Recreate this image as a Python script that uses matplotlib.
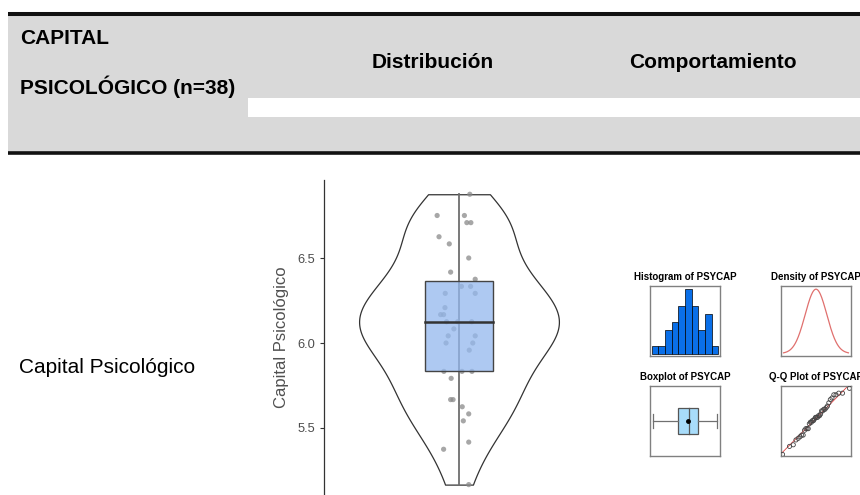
from statistics import NormalDist

import numpy as np
import pandas as pd
import matplotlib
matplotlib.use("Agg")
import matplotlib.pyplot as plt
from matplotlib.patches import Rectangle

plt.rcParams['font.family'] = ['Liberation Sans', 'DejaVu Sans']

# Puntajes de capital psicológico (n=38)
psycap = [5.167, 5.375, 5.417, 5.542, 5.583, 5.625, 5.667, 5.667, 5.792,
          5.833, 5.833, 5.833, 5.958, 6.0, 6.0, 6.042, 6.042, 6.083, 6.125,
          6.125, 6.125, 6.167, 6.167, 6.208, 6.292, 6.292, 6.333, 6.333,
          6.375, 6.417, 6.5, 6.583, 6.625, 6.708, 6.708, 6.75, 6.75, 6.875]
# desplazamiento horizontal de los puntos (jitter)
jitter = [0.036, -0.057, 0.036, 0.016, 0.036, 0.012, -0.031, -0.022, -0.029,
          -0.056, 0.048, 0.011, 0.038, -0.048, 0.051, -0.040, 0.060, -0.019,
          -0.046, -0.005, 0.047, -0.068, -0.057, -0.052, -0.051, 0.060, 0.009,
          0.043, 0.060, -0.031, 0.036, -0.036, -0.074, 0.029, 0.044, -0.081,
          0.020, 0.040]
yticks = [5.5, 6.0, 6.5]
hist_edges = [5.0, 5.2, 5.4, 5.6, 5.8, 6.0, 6.2, 6.4, 6.6, 6.8, 7.0]

header_left = ["CAPITAL", "PSICOLÓGICO (n=38)"]
col_titles = ["Distribución", "Comportamiento"]
row_label = "Capital Psicológico"
var_name = "PSYCAP"

W, H = 860, 495
fig = plt.figure(figsize=(W / 100, H / 100), dpi=100)
fig.patch.set_facecolor('white')


def px_axes(x0, y0, x1, y1):
    return fig.add_axes([x0 / W, 1 - y1 / H, (x1 - x0) / W, (y1 - y0) / H])


data = np.array(psycap)
n = len(data)

# ---- tabla de fondo ----
bg = fig.add_axes([0, 0, 1, 1])
bg.set_xlim(0, W)
bg.set_ylim(H, 0)
bg.axis('off')
bg.add_patch(Rectangle((8, 15), W - 8, 137, facecolor='#d9d9d9', edgecolor='none'))
bg.add_patch(Rectangle((248, 98), W - 248, 19, facecolor='white', edgecolor='none'))
bg.plot([8, W], [13.5, 13.5], color='#111111', lw=2.9, solid_capstyle='butt')
bg.plot([8, W], [152.5, 152.5], color='#111111', lw=2.6, solid_capstyle='butt')

bg.text(20, 44, header_left[0], fontsize=15, fontweight='bold', va='baseline')
bg.text(20, 94, header_left[1], fontsize=15, fontweight='bold', va='baseline')
bg.text(433, 68, col_titles[0], fontsize=15, fontweight='bold', ha='center', va='baseline')
bg.text(713, 68, col_titles[1], fontsize=15, fontweight='bold', ha='center', va='baseline')
bg.text(19, 373, row_label, fontsize=15, va='baseline')

# ---- violín + boxplot ----
ax = px_axes(324, 180, 594, 495)
ax.set_xlim(-0.5, 0.5)
ax.set_ylim(6.5 - (495 - 258) / 170, 6.5 + (258 - 180) / 170)

# densidad kernel (bw nrd0), recortada al rango de los datos
q1, med, q3 = np.percentile(data, [25, 50, 75])
bw = 0.9 * min(data.std(ddof=1), (q3 - q1) / 1.34) * n ** -0.2
grid = np.linspace(data.min(), data.max(), 300)
dens = np.exp(-0.5 * ((grid[:, None] - data[None, :]) / bw) ** 2).sum(axis=1)
half = dens / dens.max() * 0.37
ax.fill_betweenx(grid, -half, half, facecolor='white', edgecolor='#333333', lw=0.9, zorder=1)

ax.plot([0, 0], [data.min(), data.max()], color='#6e6e6e', lw=1.3, zorder=2)
ax.scatter(np.array(jitter), data, s=14, color='#8a8a8a', alpha=0.75, edgecolors='none', zorder=3)
ax.add_patch(Rectangle((-0.126, q1), 0.252, q3 - q1, facecolor=(0.576, 0.722, 0.933, 0.75),
                       edgecolor='#444444', lw=1.0, zorder=4))
ax.plot([-0.126, 0.126], [med, med], color='#333333', lw=1.8, zorder=5)

for s in ['top', 'right', 'bottom']:
    ax.spines[s].set_visible(False)
ax.spines['left'].set_color('#333333')
ax.spines['left'].set_linewidth(0.9)
ax.set_xticks([])
ax.set_yticks(yticks)
ax.set_yticklabels([f"{v:.1f}" for v in yticks])
ax.tick_params(axis='y', colors='#333333', labelcolor='#4d4d4d', labelsize=9.3, length=3, width=0.8)
ax.set_ylabel(row_label, fontsize=12, color='#505050', labelpad=6)
ax.patch.set_alpha(0)


# ---- miniaturas ----
def frame(a):
    for s in a.spines.values():
        s.set_color('#808080')
        s.set_linewidth(1.0)
    a.set_xticks([])
    a.set_yticks([])


def mini_title(x, y, txt):
    bg.text(x, y, txt, fontsize=7, fontweight='bold', ha='center', va='baseline')


# histograma (intervalos cerrados a la derecha)
bins = pd.cut(data, hist_edges, right=True)
counts = np.bincount(bins.codes, minlength=len(hist_edges) - 1)
h = px_axes(650, 286, 720, 356)
h.bar(hist_edges[:-1], counts, width=0.2, align='edge', color='#0a6fe8', edgecolor='black', lw=0.5)
h.set_xlim(4.95, 7.05)
h.set_ylim(-0.2, max(counts) * 1.05)
frame(h)
mini_title(685, 280, f"Histogram of {var_name}")

# densidad normal
nd = NormalDist(data.mean(), data.std(ddof=1))
xs = np.linspace(nd.mean - 3 * nd.stdev, nd.mean + 3 * nd.stdev, 200)
d = px_axes(781, 286, 851, 356)
d.plot(xs, [nd.pdf(v) for v in xs], color='#e0706e', lw=0.9)
d.margins(x=0.04, y=0.05)
frame(d)
mini_title(816, 280, f"Density of {var_name}")

# boxplot horizontal
b = px_axes(650, 386, 720, 456)
b.plot([data.min(), q1], [0, 0], color='#707070', lw=0.9)
b.plot([q3, data.max()], [0, 0], color='#707070', lw=0.9)
for v in [data.min(), data.max()]:
    b.plot([v, v], [-0.2, 0.2], color='#707070', lw=0.9)
b.add_patch(Rectangle((q1, -0.37), q3 - q1, 0.74, facecolor='#a8dcfa', edgecolor='#555555', lw=0.9))
b.plot([med, med], [-0.37, 0.37], color='#555555', lw=0.9)
b.plot([data.mean()], [0], 'o', color='black', ms=2.5)
b.set_xlim(data.min() - 0.07, data.max() + 0.088)
b.set_ylim(-1, 1)
frame(b)
mini_title(685, 380, f"Boxplot of {var_name}")

# Q-Q normal
std_norm = NormalDist()
theo = np.array([std_norm.inv_cdf((i - 0.5) / n) for i in range(1, n + 1)])
z25, z75 = std_norm.inv_cdf(0.25), std_norm.inv_cdf(0.75)
slope = (q3 - q1) / (z75 - z25)
icpt = q1 - slope * z25
qq = px_axes(781, 386, 851, 456)
qq.scatter(theo, np.sort(data), s=9, facecolors='none', edgecolors='#444444', lw=0.6, zorder=3)
qq.set_xlim(theo.min() - 0.1, theo.max() + 0.1)
qq.set_ylim(data.min() - 0.04, data.max() + 0.06)
lx = np.array(qq.get_xlim())
qq.plot(lx, icpt + slope * lx, color='#e04040', lw=0.6, zorder=2)
frame(qq)
mini_title(816, 380, f"Q-Q Plot of {var_name}")

fig.savefig('out.png', dpi=100)
